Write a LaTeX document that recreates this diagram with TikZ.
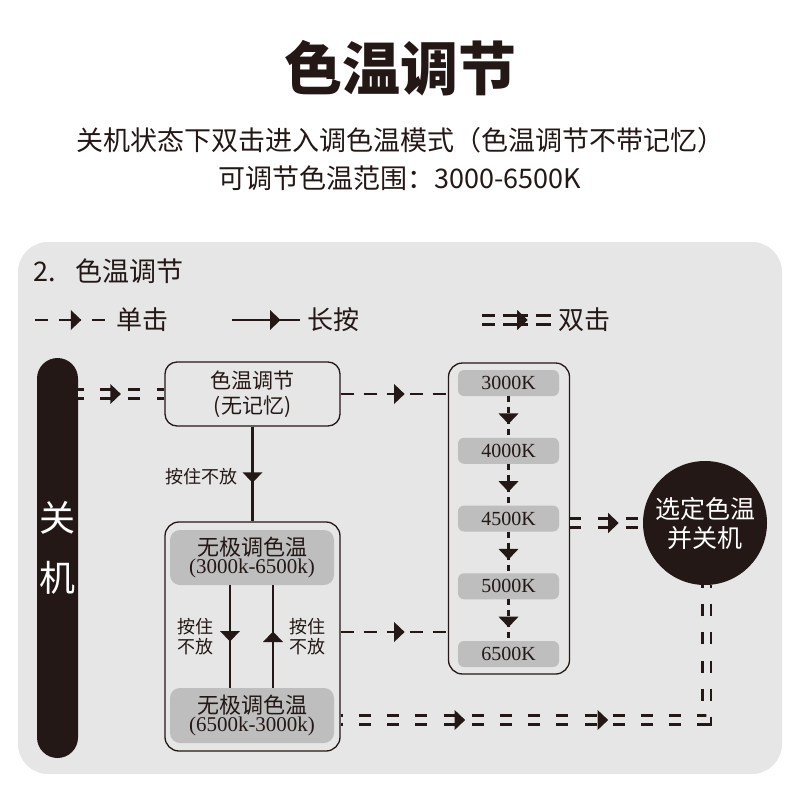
\documentclass[tikz,border=0pt]{standalone}
\usepackage{fontspec}
\setmainfont{Noto Sans CJK SC}
\newfontfamily\numfont{Liberation Serif}
\usepackage{xcolor}
\usetikzlibrary{decorations.markings,calc}
\definecolor{ink}{HTML}{231815}
\definecolor{panel}{HTML}{E6E6E6}
\definecolor{keygray}{HTML}{BEBEBE}

\tikzset{
  midarrow/.style={postaction={decorate},decoration={markings,
    mark=at position #1 with {\fill[ink] (5,0) -- (-5.5,10) -- (-5.5,-10) -- cycle;}}},
  sline/.style={draw=ink,line width=2.2pt,dash pattern=on 13pt off 10pt},
  kline/.style={draw=ink,line width=2.2pt,dash pattern=on 6pt off 5pt},
  dline/.style={draw=ink,line width=2.6pt,double=panel,double distance=6pt,dash pattern=on 12pt off 16.2pt},
  dconn/.style={preaction={dline,#1}},
  dconn/.default={},
  fline/.style={draw=ink,line width=2.2pt},
  frame/.style={draw=ink,line width=1.3pt,fill=panel,inner sep=0},
  modebox/.style={fill=keygray,rounded corners=10,minimum width=164,minimum height=55,
    inner sep=0,align=center,text=ink},
  tempbox/.style={fill=keygray,rounded corners=6,minimum width=101,minimum height=26,
    inner sep=0,text=ink,font=\numfont\fontsize{20}{22}\selectfont},
  lbl/.style={text=ink,inner sep=0,font=\fontsize{18}{20}\selectfont,align=center}
}

\begin{document}
\begin{tikzpicture}[x=1pt,y=-1pt]
\useasboundingbox (0,0) rectangle (800,800);
\fill[white] (0,0) rectangle (800,800);
\fill[panel,rounded corners=30] (18,242) rectangle (782,774);

% title and notes
\node[text=ink,font=\fontsize{58}{62}\selectfont\bfseries] (title) at (400,68) {色温调节};
\node[text=ink,font=\fontsize{27}{30}\selectfont] (note1) at (400,140) {关机状态下双击进入调色温模式（色温调节不带记忆）};
\node[text=ink,font=\fontsize{27}{30}\selectfont] (note2) at (400,178) {可调节色温范围：3000-6500K};

% panel heading and legend
\node[anchor=west,text=ink,inner sep=0,font=\fontsize{27}{30}\selectfont] (head) at (33,271) {2.\hspace{20pt}色温调节};
\coordinate (sA) at (35,320);
\coordinate (sB) at (105,320);
\draw[sline,dash pattern=on 13pt off 11pt on 22pt off 11pt on 13pt,midarrow=0.59] (sA) -- (sB);
\node[anchor=west,text=ink,inner sep=0,font=\fontsize{26}{28}\selectfont] (lgS) at (116,320) {单击};
\coordinate (fA) at (232,320);
\coordinate (fB) at (300,320);
\draw[fline,midarrow=0.64] (fA) -- (fB);
\node[anchor=west,text=ink,inner sep=0,font=\fontsize{26}{28}\selectfont] (lgF) at (307,320) {长按};
\coordinate (dA) at (482,320);
\coordinate (dB) at (551,320);
\path[dconn={dash pattern=on 13pt off 8pt on 25pt off 8pt on 15pt},midarrow=0.59] (dA) -- (dB);
\node[anchor=west,text=ink,inner sep=0,font=\fontsize{26}{28}\selectfont] (lgD) at (558,320) {双击};

% off state bar
\node[fill=ink,rounded corners=20.5,minimum width=41,minimum height=400,inner sep=0] (offbar) at (57.5,558) {};
\node[text=white,font=\fontsize{36}{38}\selectfont] (offA) at (57.5,518) {关};
\node[text=white,font=\fontsize{36}{38}\selectfont] (offB) at (57.5,578) {机};

% mode boxes
\node[frame,rounded corners=12,minimum width=175,minimum height=64,align=center,text=ink,
  font=\fontsize{21}{25}\selectfont] (boxA) at (252.5,394) {色温调节\\(无记忆)};
\node[frame,rounded corners=14,minimum width=175,minimum height=229] (boxC) at (252.5,636.5) {};
\node[modebox] (up) at (252,557.5) {\fontsize{22}{26}\selectfont 无极调色温\\\numfont\fontsize{21}{26}\selectfont(3000k-6500k)};
\node[modebox] (down) at (252,715.5) {\fontsize{22}{26}\selectfont 无极调色温\\\numfont\fontsize{21}{26}\selectfont(6500k-3000k)};
\node[lbl] (holdL) at (195,637) {按住\\不放};
\node[lbl] (holdR) at (307,637) {按住\\不放};
\node[lbl,anchor=east] (holdA) at (238,477) {按住不放};

% fixed steps
\node[frame,rounded corners=14,minimum width=121,minimum height=311] (boxB) at (509,518.5) {};
\foreach \t [count=\i] in {3000,4000,4500,5000,6500}
  \node[tempbox] (k\i) at (508.5,{383+67.75*(\i-1)}) {\t K};

% confirm circle
\node[circle,fill=ink,minimum size=124,inner sep=0,text=white,align=center,
  font=\fontsize{25}{29}\selectfont] (circ) at (705,523) {选定色温\\并关机};

% connectors
\path[dconn={dash phase=6.2pt},midarrow=0.437] (offbar.east |- boxA.west) -- (boxA.west);
\draw[sline,midarrow=0.55] (boxA.east) -- (boxA.east -| boxB.west);
\draw[sline,midarrow=0.55] ($(boxC.east)+(0,-4.5)$) -- ($(boxC.east -| boxB.west)+(0,-4.5)$);
\draw[fline,midarrow=0.54] (boxA.south) -- (boxC.north);
\draw[fline,midarrow=0.5] ([xshift=-22pt]up.south) -- ([xshift=-22pt]down.north);
\draw[fline,midarrow=0.5] ([xshift=21pt]down.north) -- ([xshift=21pt]up.south);
\foreach \i in {1,...,4}{
  \pgfmathtruncatemacro\j{\i+1}
  \draw[kline,midarrow=0.55] (k\i.south) -- (k\j.north);
}
\path[dconn={dash phase=0.7pt},midarrow=0.6] (boxB.east |- circ.west) -- (circ.west);
\coordinate (turn) at (706.5,720);
\path[dconn={dash phase=9.8pt},postaction={decorate},decoration={markings,
    mark=at position 119.5pt with {\fill[ink] (5,0) -- (-5.5,10) -- (-5.5,-10) -- cycle;},
    mark=at position 262.5pt with {\fill[ink] (5,0) -- (-5.5,10) -- (-5.5,-10) -- cycle;}}]
  (boxC.east |- turn) -- (turn) -- (turn |- circ.south);
\end{tikzpicture}
\end{document}
